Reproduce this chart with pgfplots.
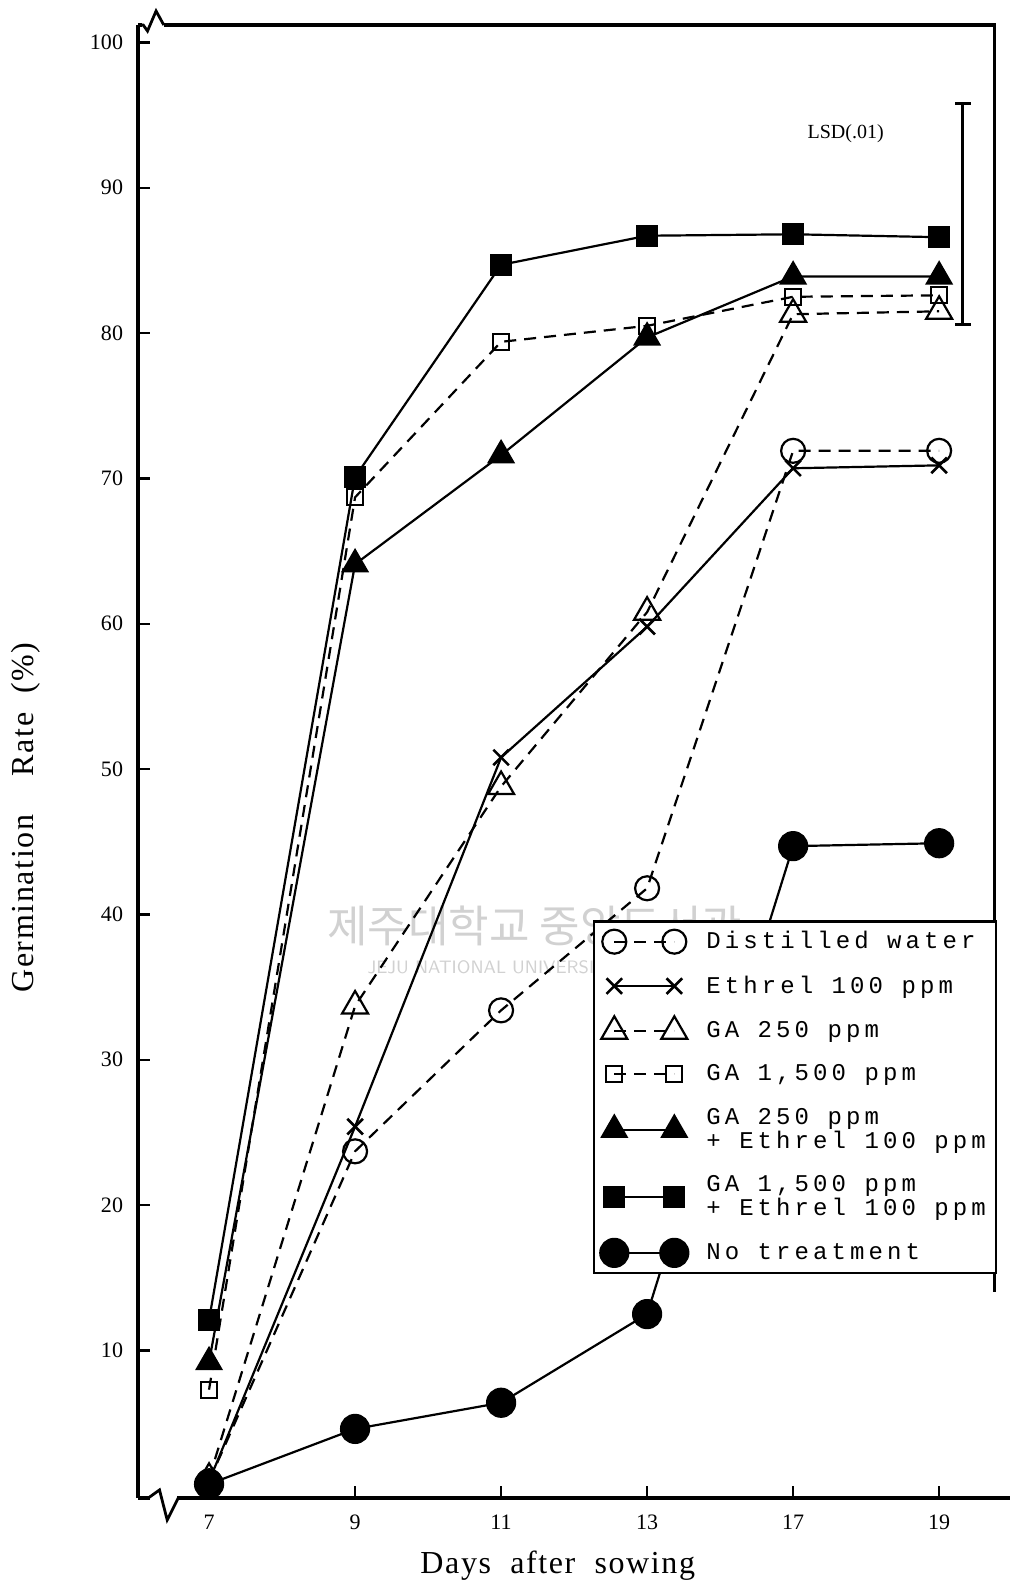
\documentclass[border=0pt]{standalone}
\usepackage{pgfplots}
\pgfplotsset{compat=1.18}
\usepackage{fontspec}
\setmainfont{Liberation Serif}
\newfontfamily\labfont[LetterSpace=5]{Liberation Serif}
\newfontfamily\legfont[LetterSpace=17]{Liberation Mono}
\newfontfamily\kr{Noto Sans CJK KR}

% marker - line - marker in the legend
\pgfplotsset{
  legend image code/.code={
    \draw[mark repeat=2, mark phase=1, #1] plot coordinates {(0pt,0pt) (15pt,0pt) (30pt,0pt)};
  },
}

\begin{document}
\begin{tikzpicture}
\begin{axis}[
  scale only axis, width=428pt, height=736pt,
  xmin=-0.486, xmax=5.38, ymin=-0.15, ymax=101.2,
  axis x line=bottom, axis y line=left,
  axis line style={-, line width=1.6pt},
  xtick={0,...,5}, xticklabels={7,9,11,13,17,19},
  ytick={10,20,...,100},
  tick align=inside, major tick length=6pt,
  tick style={line width=1.2pt, black},
  /pgf/number format/assume math mode=true,
  ticklabel style={font=\fontsize{11}{13}\selectfont},
  yticklabel style={xshift=-4pt},
  xticklabel style={yshift=-5pt},
  xlabel={Days\ \ after\ \ sowing},
  ylabel={Germination\ \ \ \ Rate\ \ (\%)},
  label style={font=\fontsize{16}{19}\selectfont\labfont},
  xlabel style={at={(axis description cs:0.49,-0.046)}, anchor=center},
  ylabel style={at={(axis description cs:-0.131,0.462)}, anchor=center},
  clip=false,
  legend cell align=left,
  legend style={at={(axis cs:2.63,39.6)}, anchor=north west, draw=black,
    line width=1.2pt, font=\fontsize{12}{10}\selectfont\legfont,
    nodes={align=left}, row sep=8pt, column sep=7pt, inner sep=3pt},
]
% faint library watermark of the scan
\node[text=black!18, font=\fontsize{22}{24}\selectfont\kr] at (axis cs:2.23,39.2) {제주대학교 중앙도서관};
\node[text=black!18, font=\fontsize{9}{10}\selectfont\sffamily] at (axis cs:2.23,36.4) {JEJU NATIONAL UNIVERSITY LIBRARY};

\addplot[black, line width=1.1pt, dash pattern=on 6pt off 4pt, mark=o, mark size=6pt,
  mark options={solid, fill=white, line width=1.1pt}]
  coordinates {(0,1.0) (1,23.7) (2,33.4) (3,41.8) (4,71.9) (5,71.9)};
\addlegendentry{Distilled water}
\addplot[black, line width=1.1pt, mark=x, mark size=5.5pt, mark options={line width=1.3pt}]
  coordinates {(0,1.0) (1,25.4) (2,50.8) (3,59.8) (4,70.7) (5,70.9)};
\addlegendentry{Ethrel 100 ppm}
\addplot[black, line width=1.1pt, dash pattern=on 6pt off 4pt, mark=triangle, mark size=7.5pt,
  mark options={solid, fill=white, line width=1.1pt}]
  coordinates {(0,1.2) (1,33.7) (2,48.8) (3,60.8) (4,81.3) (5,81.5)};
\addlegendentry{GA 250 ppm}
\addplot[black, line width=1.1pt, dash pattern=on 6pt off 4pt, mark=square, mark size=4pt,
  mark options={solid, fill=white, line width=1.1pt}]
  coordinates {(0,7.3) (1,68.7) (2,79.4) (3,80.5) (4,82.5) (5,82.6)};
\addlegendentry{GA 1,500 ppm}
\addplot[black, line width=1.1pt, mark=triangle*, mark size=7pt]
  coordinates {(0,9.2) (1,64.1) (2,71.6) (3,79.7) (4,83.9) (5,83.9)};
\addlegendentry{GA 250 ppm\\+ Ethrel 100 ppm}
\addplot[black, line width=1.1pt, mark=square*, mark size=5pt]
  coordinates {(0,12.1) (1,70.1) (2,84.7) (3,86.7) (4,86.8) (5,86.6)};
\addlegendentry{GA 1,500 ppm\\+ Ethrel 100 ppm}
\addplot[black, line width=1.1pt, mark=*, mark size=7pt]
  coordinates {(0,0.8) (1,4.6) (2,6.4) (3,12.5) (4,44.7) (5,44.9)};
\addlegendentry{No treatment}

% LSD bar
\addplot[black, line width=1.4pt, mark=-, mark size=4pt, forget plot]
  coordinates {(5.16,95.8) (5.16,80.6)};
\node[font=\fontsize{10}{12}\selectfont] at (axis cs:4.36,93.7) {LSD(.01)};

% frame: top and right, x axis running on past the frame
\draw[line width=1.6pt] (rel axis cs:0,1) -- (rel axis cs:1,1) -- (rel axis cs:1,0.14);
\draw[line width=1.6pt] (rel axis cs:1,0) -- (rel axis cs:1.018,0);
% axis break marks
\draw[white, line width=4pt] (rel axis cs:0.004,1) -- (rel axis cs:0.03,1);
\draw[line width=1.4pt] (rel axis cs:0,1) -- (rel axis cs:0.006,1)
  -- ([yshift=-3pt]rel axis cs:0.011,1) -- ([yshift=7pt]rel axis cs:0.021,1) -- (rel axis cs:0.03,1);
\draw[white, line width=4pt] (rel axis cs:0.014,0) -- (rel axis cs:0.046,0);
\draw[line width=1.4pt] (rel axis cs:0.012,0) -- ([yshift=4pt]rel axis cs:0.025,0)
  -- ([yshift=-11pt]rel axis cs:0.034,0) -- (rel axis cs:0.047,0);

\coordinate (bl) at (rel axis cs:0,0);
\coordinate (tr) at (rel axis cs:1,1);
\end{axis}
\pgfresetboundingbox
\path ([xshift=-69pt,yshift=-42pt]bl) rectangle ([xshift=8pt,yshift=12.5pt]tr);
\end{tikzpicture}
\end{document}
